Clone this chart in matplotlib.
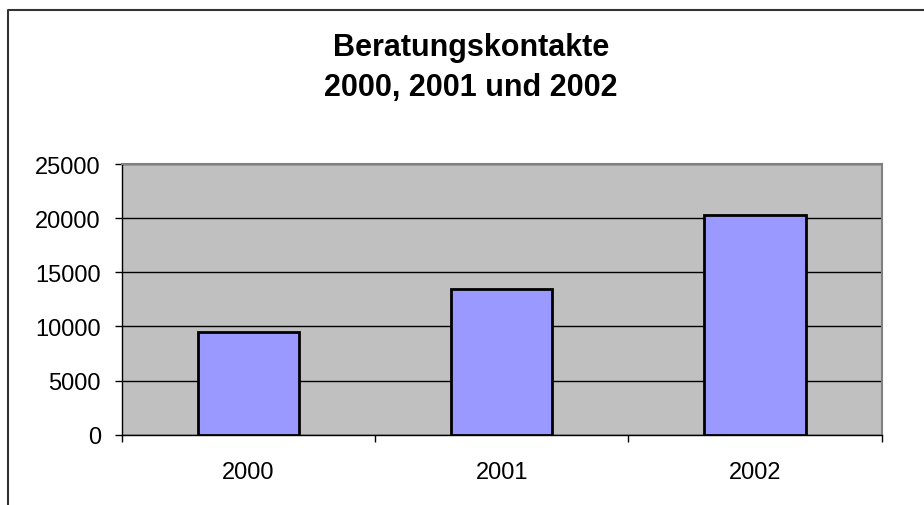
import matplotlib.pyplot as plt
from matplotlib.lines import Line2D

years = ["2000", "2001", "2002"]
kontakte = [9500, 13500, 20300]
y_ticks = [0, 5000, 10000, 15000, 20000, 25000]

plt.rcParams["font.family"] = ["Liberation Sans", "DejaVu Sans"]

fig = plt.figure(figsize=(9.24, 5.06), dpi=100)
ax = fig.add_axes([121.7 / 924, 1 - 435.7 / 506, 760 / 924, 270.7 / 506])

# plot area
ax.set_facecolor("#C0C0C0")
x = range(len(years))
ax.bar(x, kontakte, width=0.4, color="#9999FF", edgecolor="black", linewidth=2, zorder=3)

ax.set_xlim(-0.5, 2.5)
ax.set_ylim(0, 25000)
ax.set_yticks(y_ticks)
ax.set_yticklabels([str(v) for v in y_ticks])
ax.yaxis.grid(True, color="black", linewidth=1)
ax.set_axisbelow(True)

# labels in the middle, tick marks between the categories
ax.set_xticks(list(x))
ax.set_xticklabels(years)
ax.set_xticks([-0.5, 0.5, 1.5, 2.5], minor=True)
ax.tick_params(axis="x", which="major", length=0, pad=19, labelsize=17)
ax.tick_params(axis="x", which="minor", length=5, width=1, direction="out", color="black")
ax.tick_params(axis="y", length=5, width=1, pad=10, labelsize=17, color="black")

for side in ["top", "right"]:
    ax.spines[side].set_color("#808080")
    ax.spines[side].set_linewidth(1.5)
for side in ["left", "bottom"]:
    ax.spines[side].set_color("black")
    ax.spines[side].set_linewidth(1)

# title
fig.text(0.5095, 1 - 56 / 506, "Beratungskontakte", ha="center", va="baseline",
         fontsize=22, fontweight="bold")
fig.text(0.5095, 1 - 96 / 506, "2000, 2001 und 2002", ha="center", va="baseline",
         fontsize=22, fontweight="bold")

# chart border (cut off at right and bottom)
bx = 8 / 924
by = 1 - 11 / 506
fig.add_artist(Line2D([bx, bx, 1.0], [0.0, by, by], transform=fig.transFigure,
                      color="#333333", linewidth=1.5))

fig.savefig("out.png", dpi=100)
